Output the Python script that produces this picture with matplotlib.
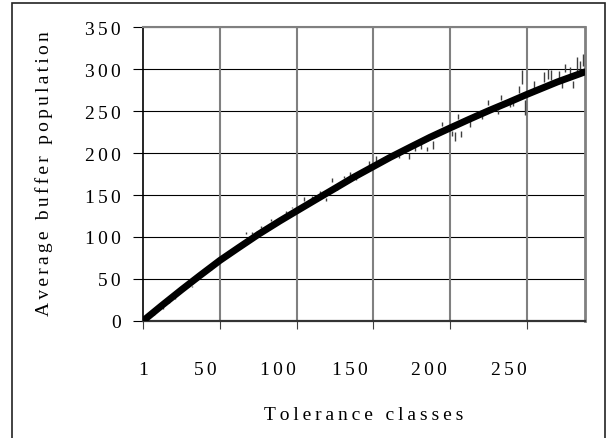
import numpy as np
import matplotlib.pyplot as plt
from matplotlib.patches import Rectangle

plt.rcParams['font.family'] = ['Liberation Serif', 'DejaVu Serif']

# averaged curve (category index -> buffer population)
curve_cat = [1, 13, 26, 38, 51, 63, 76, 90, 101, 113, 126, 138, 151, 162, 176,
             188, 201, 213, 221, 227, 239, 251, 263, 271, 280, 289]
curve_val = [0, 18, 37, 54, 72, 87, 103, 119, 131, 144, 158, 171, 184, 195, 208,
             219, 230, 240, 246.5, 251.3, 260.5, 270, 279, 285, 291, 297]

# raw samples shown as short vertical strokes: category, low, high
noise_cat = [8, 14, 18, 22, 33, 45, 52, 55, 59, 68, 72, 75, 78, 84, 94, 98,
             106, 111, 116, 120, 124, 127, 132, 136, 140, 148, 153, 158,
             168, 174, 178, 182, 186, 190, 196, 202, 204, 206, 208, 214,
             222, 226, 232, 234, 240, 242, 246, 248, 250, 256, 262, 265,
             267, 272, 274, 276, 279, 281, 284, 286, 288]
noise_lo = [7, 14, 21, 26, 40, 60, 75, 78, 80, 104, 104, 105, 111, 119, 129, 134,
            143, 146, 151, 143, 166, 156, 170, 173, 168, 186, 191, 190,
            194, 193, 202, 205, 202, 205, 232, 221, 215, 241, 219, 231,
            241, 258, 247, 263, 255, 256, 272, 283, 245, 276, 285, 288,
            287, 290, 278, 297, 294, 278, 298, 300, 304]
noise_hi = [9, 16, 23, 28, 42, 62, 77, 80, 82, 106, 106, 107, 113, 121, 131, 136,
            148, 149, 155, 146, 170, 159, 173, 178, 172, 191, 197, 193,
            199, 200, 207, 211, 207, 214, 237, 227, 225, 247, 227, 240,
            247, 263, 252, 270, 263, 262, 280, 299, 264, 286, 297, 300,
            299, 298, 286, 306, 303, 286, 315, 310, 318]

y_ticks = [0, 50, 100, 150, 200, 250, 300, 350]
x_grid = [1, 51, 101, 151, 201, 251]
x_label_pos = [1, 41.3, 88.9, 135.9, 187.4, 239.6]
x_label_txt = ['1', '50', '100', '150', '200', '250']


def spaced(s, sep='\u2006'):
    return sep.join(s)


fig = plt.figure(figsize=(6.11, 4.39), dpi=100)
ax = fig.add_axes([0.2345, 0.2672, 0.7229, 0.6679])

ax.vlines(noise_cat, noise_lo, noise_hi, colors='#404040', linewidth=1.0, zorder=3)
ax.plot(curve_cat, curve_val, color='black', linewidth=5,
        solid_capstyle='round', solid_joinstyle='round', zorder=4)

ax.set_xlim(1, 289)
ax.set_ylim(0, 350)

for v in y_ticks[1:]:
    ax.axhline(v, color='black', linewidth=0.8, zorder=1)
for c in x_grid[1:]:
    ax.axvline(c, color='#808080', linewidth=1.5, zorder=1)

ax.spines['left'].set_color('black')
ax.spines['left'].set_linewidth(1.2)
ax.spines['bottom'].set_color('#333333')
ax.spines['bottom'].set_linewidth(1.6)
ax.spines['top'].set_color('#808080')
ax.spines['top'].set_linewidth(1.5)
ax.spines['right'].set_color('#808080')
ax.spines['right'].set_linewidth(2.0)

ax.set_yticks(y_ticks)
ax.set_yticklabels([spaced(str(v)) for v in y_ticks])
ax.tick_params(axis='y', direction='out', length=7, width=0.8, pad=9,
               labelsize=14, color='black')

ax.xaxis.remove_overlapping_locs = False
ax.set_xticks(x_grid)
ax.set_xticklabels([])
ax.tick_params(axis='x', which='major', direction='out', length=6, width=0.8,
               color='#404040')
ax.set_xticks(x_label_pos, minor=True)
ax.set_xticklabels([spaced(t) for t in x_label_txt], minor=True)
ax.tick_params(axis='x', which='minor', length=0, pad=29, labelsize=14)

fig.text(364 / 611, 1 - 415 / 439, spaced('Tolerance classes', '\u2009'),
         ha='center', va='center', fontsize=14)
fig.text(44 / 611, 1 - 174 / 439, spaced('Average buffer population'),
         ha='center', va='center', rotation=90, fontsize=14)

fig.patches.append(Rectangle((12 / 611, -0.05), (605 - 12) / 611, 1 - 4 / 439 + 0.05,
                             transform=fig.transFigure, fill=False,
                             edgecolor='#222222', linewidth=1.2))

fig.savefig('out.png', dpi=100)
